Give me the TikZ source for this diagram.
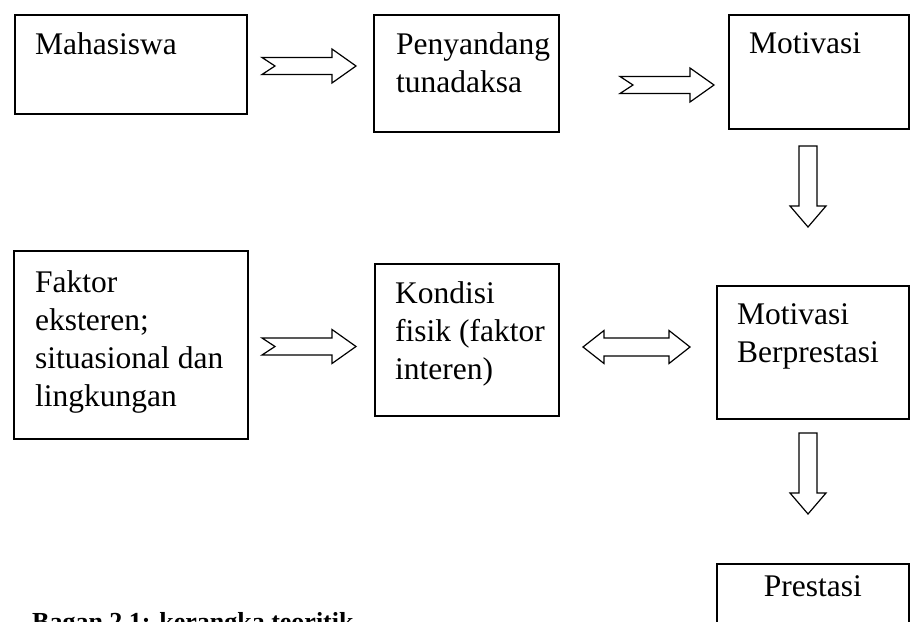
\documentclass[tikz,border=0pt]{standalone}
\usepackage{fontspec}
\setmainfont{Liberation Serif}
\begin{document}
\begin{tikzpicture}[x=1pt,y=1pt]
\tikzset{
    box/.style={draw, line width=1.6pt, anchor=north west, inner sep=0pt},
    txt/.style={anchor=north west, inner sep=0pt, align=left, font=\fontsize{31.5}{38}\selectfont},
    blk/.style={draw, line width=1.2pt, line join=miter},
    rarrow/.pic={\draw[blk] (-47,-8.5) -- (23,-8.5) -- (23,-17) -- (47,0) -- (23,17) -- (23,8.5) -- (-47,8.5) -- (-34,0) -- cycle;},
    lrarrow/.pic={\draw[blk] (-53.5,0) -- (-32.5,16.5) -- (-32.5,9) -- (32.5,9) -- (32.5,16.5) -- (53.5,0) -- (32.5,-16.5) -- (32.5,-9) -- (-32.5,-9) -- (-32.5,-16.5) -- cycle;},
    darrow/.pic={\draw[blk] (-9,0) -- (9,0) -- (9,-60) -- (18,-60) -- (0,-81) -- (-18,-60) -- (-9,-60) -- cycle;}
}
\path[use as bounding box, clip] (0,0) rectangle (918,-621);
% boxes
\node[box, minimum width=232pt, minimum height=99pt] (mhs) at (14,-14) {};
\node[box, minimum width=185pt, minimum height=117pt] (pny) at (373,-14) {};
\node[box, minimum width=180pt, minimum height=114pt] (mtv) at (728,-14) {};
\node[box, minimum width=234pt, minimum height=188pt] (fkt) at (13,-250) {};
\node[box, minimum width=184pt, minimum height=152pt] (kds) at (374,-263) {};
\node[box, minimum width=192pt, minimum height=133pt] (mbp) at (716,-285) {};
\node[box, minimum width=192pt, minimum height=100pt] (prs) at (716,-563) {};
% texts
\node[txt] (mhs-t) at ([shift={(21,-18.5)}]mhs.north west) {Mahasiswa};
\node[txt] (pny-t) at ([shift={(23,-18.5)}]pny.north west) {Penyandang\\tunadaksa};
\node[txt] (mtv-t) at ([shift={(21,-18.5)}]mtv.north west) {Motivasi};
\node[txt] (fkt-t) at ([shift={(22,-20.5)}]fkt.north west) {Faktor\\eksteren;\\situasional dan\\lingkungan};
\node[txt] (kds-t) at ([shift={(21,-18.5)}]kds.north west) {Kondisi\\fisik (faktor\\interen)};
\node[txt] (mbp-t) at ([shift={(21,-18.5)}]mbp.north west) {Motivasi\\Berprestasi};
\node[txt, anchor=north] (prs-t) at ([yshift=-12.5]prs.north) {Prestasi};
% arrows
\pic at (309,-66) {rarrow};
\pic at (667,-85) {rarrow};
\pic at (309,-346.5) {rarrow};
\pic at (636.5,-347) {lrarrow};
\pic at (808,-146) {darrow};
\pic at (808,-433) {darrow};
% caption
\node[anchor=north west, inner sep=0pt, font=\fontsize{26}{31}\selectfont\bfseries] (cap) at (32,-612) {Bagan 2.1: kerangka teoritik};
\end{tikzpicture}
\end{document}
